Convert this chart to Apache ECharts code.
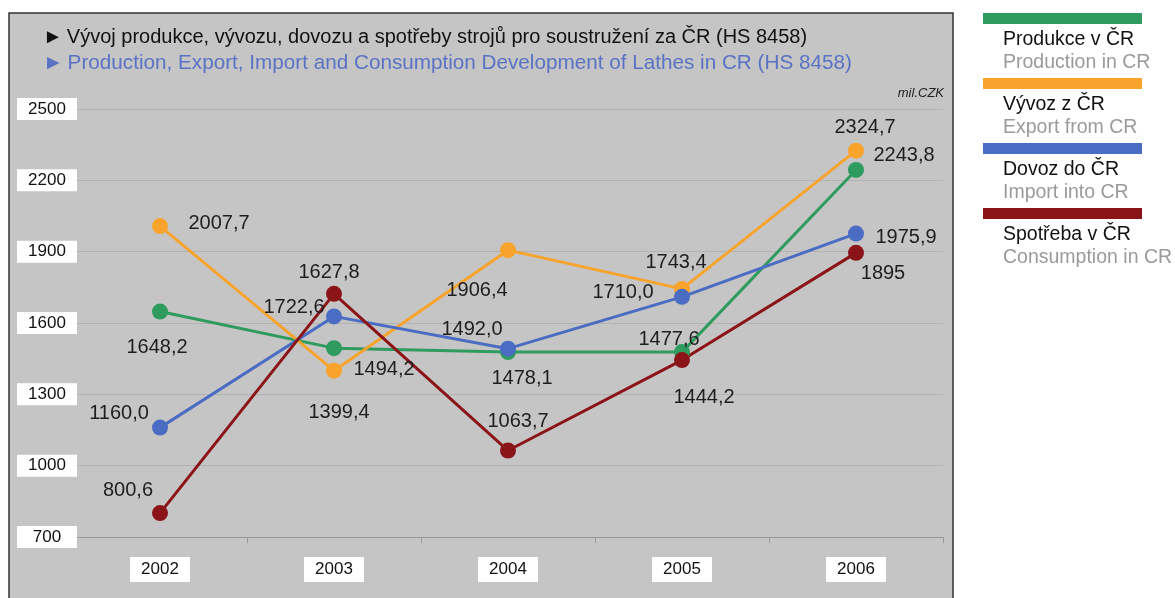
<!DOCTYPE html>
<html>
<head>
<meta charset="utf-8">
<script src="https://cdn.jsdelivr.net/npm/echarts@6/dist/echarts.min.js"></script>
<style>
  html, body { margin: 0; padding: 0; background: #fff; }
  #chart { width: 1175px; height: 598px; }
</style>
</head>
<body>
<div id="chart"></div>
<script>
// data as printed on the chart (decimal comma)
const years = ['2002', '2003', '2004', '2005', '2006'];
const produkce = ['1648,2', '1494,2', '1478,1', '1477,6', '2243,8'];
const vyvoz = ['2007,7', '1399,4', '1906,4', '1743,4', '2324,7'];
const dovoz = ['1160,0', '1627,8', '1492,0', '1710,0', '1975,9'];
const spotreba = ['800,6', '1722,6', '1063,7', '1444,2', '1895'];
const yMin = 700, yMax = 2500, yStep = 300;

// where each value label sits relative to its point
const offProdukce = [[-3, 36], [50, 21], [14, 26], [-13, -13], [48, -14]];
const offVyvoz = [[59, -3], [5, 42], [-31, 40], [-6, -26], [9, -23]];
const offDovoz = [[-41, -14], [-5, -44], [-36, -19], [-59, -4], [50, 4]];
const offSpotreba = [[-32, -23], [-40, 14], [10, -29], [22, 37], [27, 21]];

const FONT = '"Liberation Sans", Arial, sans-serif';
const toNum = s => parseFloat(s.replace(',', '.'));

function lineSeries(name, color, texts, offsets) {
  return {
    name: name,
    type: 'line',
    data: texts.map((t, i) => ({ value: toNum(t), label: { offset: offsets[i] } })),
    symbol: 'circle',
    symbolSize: 16,
    lineStyle: { width: 3, color: color },
    itemStyle: { color: color },
    label: {
      show: true,
      position: 'inside',
      align: 'center',
      verticalAlign: 'middle',
      formatter: p => texts[p.dataIndex],
      fontFamily: FONT,
      fontSize: 20,
      color: '#1e1e1e'
    }
  };
}

// legend drawn by hand: colour bar + Czech line + English line
const legendItems = [
  ['#2f9b5f', 'Produkce v ČR', 'Production in CR'],
  ['#f8a42c', 'Vývoz z ČR', 'Export from CR'],
  ['#4a6cc2', 'Dovoz do ČR', 'Import into CR'],
  ['#8b1418', 'Spotřeba v ČR', 'Consumption in CR']
];
const legendGraphics = [];
legendItems.forEach((it, i) => {
  const top = 13 + i * 65;
  legendGraphics.push({ type: 'rect', shape: { x: 983, y: top, width: 159, height: 11 }, style: { fill: it[0] } });
  legendGraphics.push({ type: 'text', x: 1003, y: top + 27, style: { text: it[1], font: '19.5px ' + FONT, fill: '#111', textVerticalAlign: 'middle' } });
  legendGraphics.push({ type: 'text', x: 1003, y: top + 50, style: { text: it[2], font: '19.5px ' + FONT, fill: '#9a9a9a', textVerticalAlign: 'middle' } });
});

var myChart = echarts.init(document.getElementById('chart'));
var option = {
  animation: false,
  backgroundColor: '#fff',
  title: [
    {
      text: '►\u2009Vývoj produkce, vývozu, dovozu a spotřeby strojů pro soustružení za ČR (HS 8458)',
      left: 38, top: 22,
      textStyle: { fontFamily: FONT, fontSize: 20, fontWeight: 'normal', color: '#111' }
    },
    {
      text: '►\u2009Production, Export, Import and Consumption Development of Lathes in CR (HS 8458)',
      left: 38, top: 48,
      textStyle: { fontFamily: FONT, fontSize: 20.7, fontWeight: 'normal', color: '#5a72c4' }
    }
  ],
  graphic: [
    {
      type: 'rect', z: -10,
      shape: { x: 9, y: 13, width: 944, height: 600 },
      style: { fill: '#c5c5c5', stroke: '#333', lineWidth: 1.5 }
    },
    {
      type: 'text', z: 10, x: 944, y: 93,
      style: { text: 'mil.CZK', font: 'italic 13px ' + FONT, fill: '#222', textAlign: 'right', textVerticalAlign: 'middle' }
    }
  ].concat(legendGraphics),
  grid: { left: 73, right: 232, top: 109, bottom: 61 },
  xAxis: {
    type: 'category',
    data: years,
    axisLine: { lineStyle: { color: '#9a9a9a', width: 1 } },
    axisTick: { show: true, length: 6, lineStyle: { color: '#9a9a9a' } },
    axisLabel: {
      margin: 20,
      formatter: v => '{a|' + v + '}',
      rich: {
        a: { width: 60, height: 25, lineHeight: 25, align: 'center', backgroundColor: '#fff',
             fontFamily: FONT, fontSize: 17, color: '#111' }
      }
    }
  },
  yAxis: {
    type: 'value',
    min: yMin, max: yMax, interval: yStep,
    axisLine: { show: false },
    axisTick: { show: false },
    splitLine: { lineStyle: { color: '#b2b2b2', width: 1 } },
    axisLabel: {
      margin: -4,
      formatter: v => '{b|' + v + '}',
      rich: {
        b: { width: 60, height: 22, lineHeight: 22, align: 'center', backgroundColor: '#fff',
             fontFamily: FONT, fontSize: 17, color: '#111' }
      }
    }
  },
  series: [
    lineSeries('Produkce v ČR', '#2f9b5f', produkce, offProdukce),
    lineSeries('Vývoz z ČR', '#f8a42c', vyvoz, offVyvoz),
    lineSeries('Dovoz do ČR', '#4a6cc2', dovoz, offDovoz),
    lineSeries('Spotřeba v ČR', '#8b1418', spotreba, offSpotreba)
  ]
};
option && myChart.setOption(option);
</script>
</body>
</html>
